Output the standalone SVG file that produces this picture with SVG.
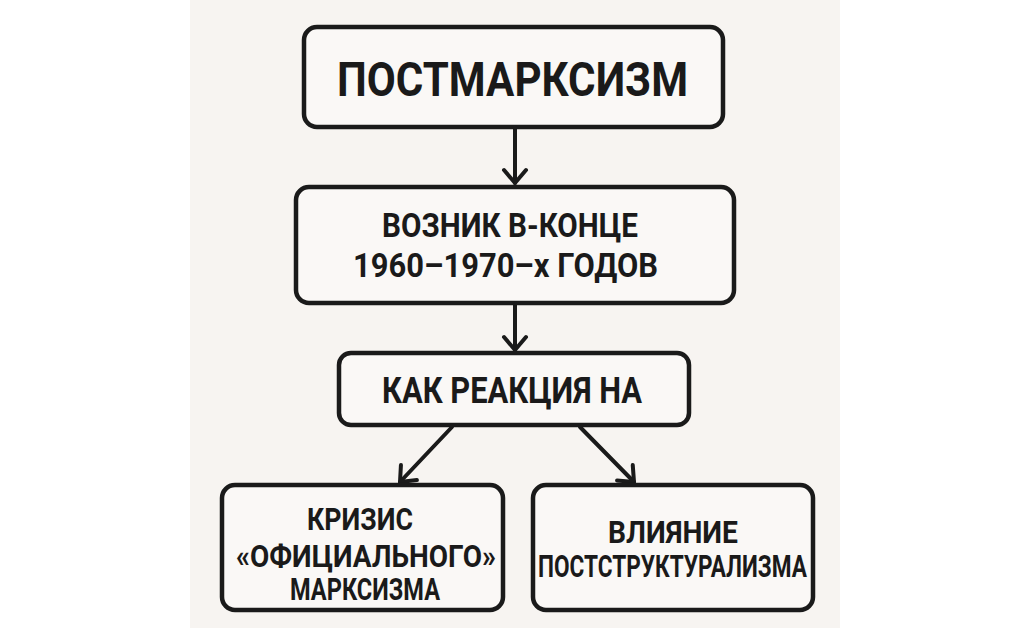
<svg xmlns="http://www.w3.org/2000/svg" width="1024" height="639" viewBox="0 0 1024 639">
<defs>
<style>
.box{fill:#faf8f6;stroke:#1a1a1a;stroke-width:4.5}
.t{font-family:Roboto,"Liberation Sans",sans-serif;font-weight:700;fill:#1a1a1a;text-anchor:middle}
.c{stroke:#1a1a1a;stroke-width:4;fill:none;stroke-linecap:round}
</style>
<marker id="ah" markerUnits="userSpaceOnUse" viewBox="0 0 20 28" refX="16" refY="14" markerWidth="20" markerHeight="28" orient="auto">
<path d="M3,3 L16,14 L3,25" fill="none" stroke="#1a1a1a" stroke-width="4" stroke-linecap="round" stroke-linejoin="round"/>
</marker>
</defs>
<rect x="0" y="0" width="1024" height="639" fill="#ffffff"/>
<rect x="190" y="0" width="650" height="628" fill="#f7f4f1"/>
<g id="connectors">
<line class="c" x1="515" y1="129" x2="515" y2="183" marker-end="url(#ah)"/>
<line class="c" x1="515" y1="305" x2="515" y2="350" marker-end="url(#ah)"/>
<line class="c" x1="452" y1="427" x2="400" y2="482" marker-end="url(#ah)"/>
<line class="c" x1="580" y1="427" x2="634" y2="482" marker-end="url(#ah)"/>
</g>
<g id="n1">
<rect class="box" x="304" y="27" width="419" height="100" rx="13"/>
<text class="t" x="512.5" y="96" font-size="48" textLength="351" lengthAdjust="spacingAndGlyphs">ПОСТМАРКСИЗМ</text>
</g>
<g id="n2">
<rect class="box" x="296" y="187" width="438" height="116" rx="13"/>
<text class="t" x="510" y="237" font-size="34" textLength="256" lengthAdjust="spacingAndGlyphs">ВОЗНИК В-КОНЦЕ</text>
<text class="t" x="505.5" y="277" font-size="34" textLength="305" lengthAdjust="spacingAndGlyphs">1960–1970–х ГОДОВ</text>
</g>
<g id="n3">
<rect class="box" x="339" y="353" width="350" height="72" rx="12"/>
<text class="t" x="512" y="403" font-size="36" textLength="260" lengthAdjust="spacingAndGlyphs">КАК РЕАКЦИЯ НА</text>
</g>
<g id="n4">
<rect class="box" x="222" y="485" width="281" height="125" rx="13"/>
<text class="t" x="360" y="530" font-size="31" textLength="106" lengthAdjust="spacingAndGlyphs">КРИЗИС</text>
<text class="t" x="366" y="567" font-size="31" textLength="260" lengthAdjust="spacingAndGlyphs">«ОФИЦИАЛЬНОГО»</text>
<text class="t" x="365" y="600" font-size="31" textLength="150" lengthAdjust="spacingAndGlyphs">МАРКСИЗМА</text>
</g>
<g id="n5">
<rect class="box" x="533" y="485" width="280" height="125" rx="13"/>
<text class="t" x="673" y="543" font-size="32" textLength="130" lengthAdjust="spacingAndGlyphs">ВЛИЯНИЕ</text>
<text class="t" x="672.5" y="577" font-size="32" textLength="269" lengthAdjust="spacingAndGlyphs">ПОСТСТРУКТУРАЛИЗМА</text>
</g>
</svg>
